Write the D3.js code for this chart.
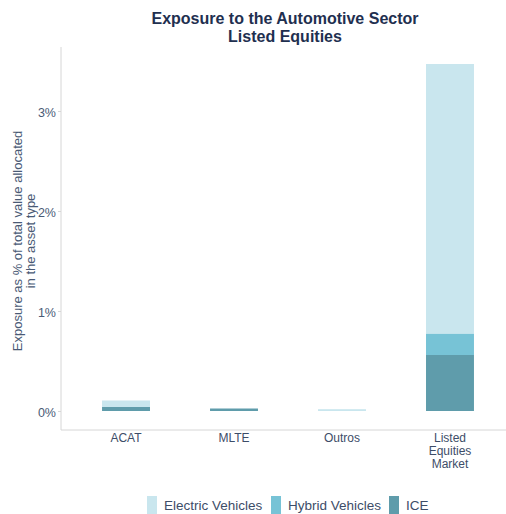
<!DOCTYPE html>
<html><head><meta charset="utf-8">
<script src="https://cdn.jsdelivr.net/npm/d3@7"></script>
<style>body{margin:0;background:#fff;} text{font-family:"Liberation Sans",Arial,sans-serif;}</style>
</head><body>
<svg id="c" width="506" height="514"></svg>
<script>
const categories = ["ACAT", "MLTE", "Outros", "Listed Equities Market"];
const categoryLines = [["ACAT"], ["MLTE"], ["Outros"], ["Listed", "Equities", "Market"]];
const seriesNames = ["ICE", "Hybrid Vehicles", "Electric Vehicles"];
const ice = [0.04, 0.025, 0.0, 0.56];
const hybrid = [0.0, 0.0, 0.0, 0.215];
const electric = [0.065, 0.0, 0.018, 2.695];
const yTicks = [0, 1, 2, 3];
const colors = {"Electric Vehicles": "#c9e6ee", "Hybrid Vehicles": "#77c3d6", "ICE": "#5f9cab"};
const legendOrder = ["Electric Vehicles", "Hybrid Vehicles", "ICE"];

const svg = d3.select("#c");
const m = {left: 61, top: 47, bottom: 430};
const x = d3.scaleBand().domain(categories).range([61, 515]).paddingInner(0.556).paddingOuter(0.38);
const y = d3.scaleLinear().domain([-0.19, 3.64]).range([m.bottom, m.top]);

const rows = categories.map((c, i) => ({cat: c, "ICE": ice[i], "Hybrid Vehicles": hybrid[i], "Electric Vehicles": electric[i]}));
const stack = d3.stack().keys(seriesNames)(rows);

svg.append("g").selectAll("g").data(stack).join("g")
  .attr("fill", d => colors[d.key])
  .selectAll("rect").data(d => d).join("rect")
  .attr("x", d => x(d.data.cat))
  .attr("width", x.bandwidth())
  .attr("y", d => y(d[1]))
  .attr("height", d => Math.max(0, y(d[0]) - y(d[1])));

// axes
svg.append("line").attr("x1", 61).attr("x2", 61).attr("y1", m.top).attr("y2", m.bottom).attr("stroke", "#d6d6d6");
svg.append("line").attr("x1", 61).attr("x2", 506).attr("y1", m.bottom).attr("y2", m.bottom).attr("stroke", "#d6d6d6");

const yAxis = svg.append("g").attr("transform", "translate(61,0)")
  .call(d3.axisLeft(y).tickValues(yTicks).tickFormat(d => d + "%").tickSize(3).tickPadding(2));
yAxis.select(".domain").remove();
yAxis.selectAll("line").attr("stroke", "#d6d6d6");
yAxis.selectAll("text").attr("fill", "#4a5a75").attr("dy", "0.45em").style("font-size", "12.5px");

const xg = svg.append("g");
categories.forEach((c, i) => {
  const t = xg.append("text").attr("x", x(c) + x.bandwidth() / 2).attr("y", 442)
    .attr("text-anchor", "middle").attr("fill", "#3d4d68").style("font-size", "12px");
  categoryLines[i].forEach((ln, j) => t.append("tspan").attr("x", x(c) + x.bandwidth() / 2).attr("dy", j === 0 ? 0 : 13).text(ln));
});

// title
const title = svg.append("text").attr("x", 285).attr("text-anchor", "middle").attr("fill", "#1f3050")
  .style("font-size", "16px").style("font-weight", "bold");
title.append("tspan").attr("x", 285).attr("y", 24).text("Exposure to the Automotive Sector");
title.append("tspan").attr("x", 285).attr("y", 42).text("Listed Equities");

// y label
const yl = svg.append("text").attr("transform", "translate(0,241) rotate(-90)").attr("text-anchor", "middle")
  .attr("fill", "#4a5a75").style("font-size", "13px");
yl.append("tspan").attr("x", 0).attr("y", 22).text("Exposure as % of total value allocated");
yl.append("tspan").attr("x", 0).attr("y", 35).text("in the asset type");

// legend
const lg = svg.append("g");
const lx = [147, 271, 389];
legendOrder.forEach((k, i) => {
  lg.append("rect").attr("x", lx[i]).attr("y", 496).attr("width", 10).attr("height", 18).attr("fill", colors[k]);
  lg.append("text").attr("x", lx[i] + 17).attr("y", 510).attr("fill", "#3d4d68").style("font-size", "13.5px").text(k);
});
</script>
</body></html>
